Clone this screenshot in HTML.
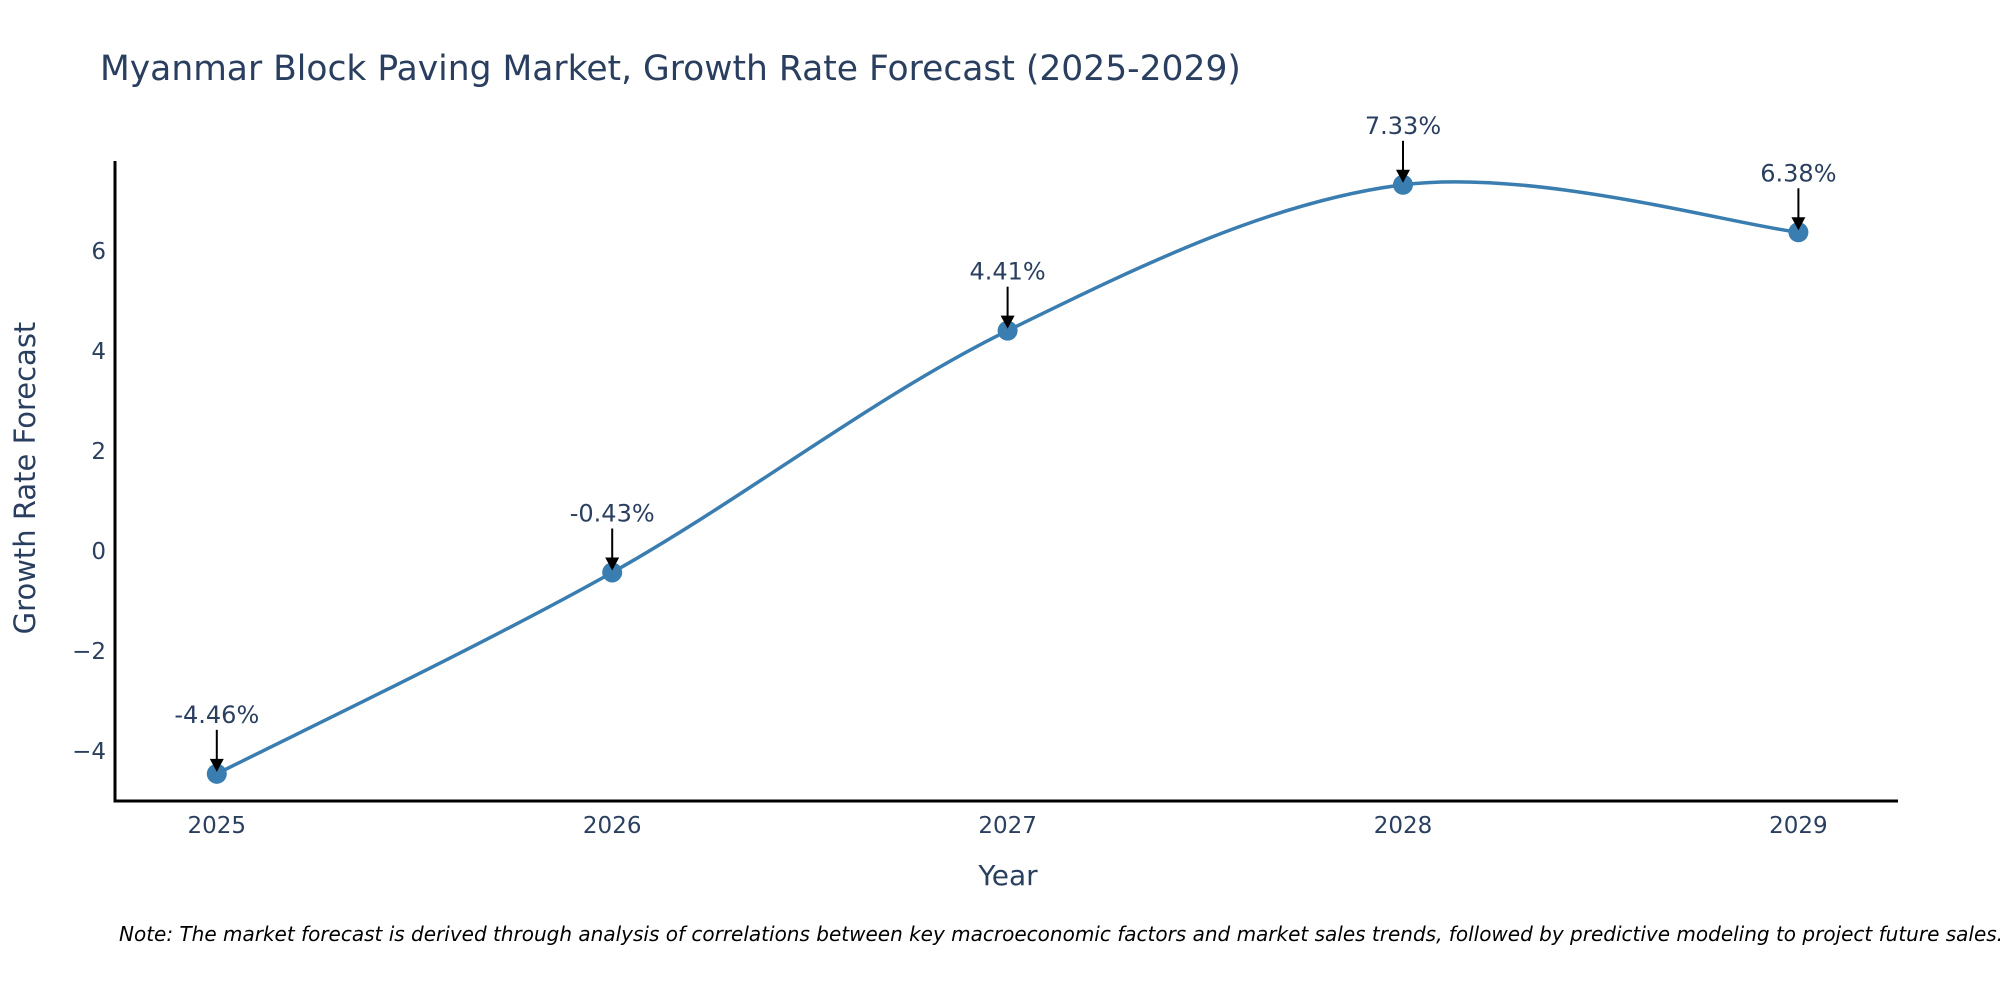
<!DOCTYPE html>
<html><head><meta charset="utf-8"><style>
body{margin:0;background:#fff;width:2000px;height:1000px;overflow:hidden}
text{font-family:"DejaVu Sans","Liberation Sans",sans-serif;fill:#2a3f5f}
</style></head><body>
<svg id="chart" width="2000" height="1000" xmlns="http://www.w3.org/2000/svg">
<text x="100" y="80" font-size="34.5">Myanmar Block Paving Market, Growth Rate Forecast (2025-2029)</text>
<g id="axes"></g>
<g id="plot"></g>
<text x="1008" y="885" font-size="28" text-anchor="middle">Year</text>
<text transform="translate(35,478) rotate(-90)" font-size="29" text-anchor="middle">Growth Rate Forecast</text>
<text x="119" y="941" font-size="20" font-style="italic" style="fill:#000">Note: The market forecast is derived through analysis of correlations between key macroeconomic factors and market sales trends, followed by predictive modeling to project future sales.</text>
</svg>
<script>
const years = [2025, 2026, 2027, 2028, 2029];
const growth = [-4.46, -0.43, 4.41, 7.33, 6.38];
const labels = ["-4.46%", "-0.43%", "4.41%", "7.33%", "6.38%"];
const yTicks = [-4, -2, 0, 2, 4, 6];
const yTickLabels = ["\u22124", "\u22122", "0", "2", "4", "6"];

const NS = "http://www.w3.org/2000/svg";
const xL = 115, xR = 1898, yTop = 161, yBot = 801;
const xScale = v => 216.8 + (v - 2025) * 395.4;
const yScale = v => 551 - v * 49.96;
function mk(tag, attrs, parent) {
  const e = document.createElementNS(NS, tag);
  for (const k in attrs) e.setAttribute(k, attrs[k]);
  parent.appendChild(e);
  return e;
}
const axes = document.getElementById('axes');
const plot = document.getElementById('plot');
const yAxis = mk('line', {x1: xL, y1: yTop, x2: xL, y2: yBot + 1.5, stroke: '#000', 'stroke-width': 3}, axes);


const xAxis = mk('line', {x1: xL - 1.5, y1: yBot, x2: xR, y2: yBot, stroke: '#000', 'stroke-width': 3}, axes);


yTicks.forEach((t, i) => {
  const tx = mk('text', {x: 106, y: yScale(t) + 8, 'font-size': 23, 'text-anchor': 'end'}, axes);
  tx.textContent = yTickLabels[i];
  
  
});
years.forEach(y => {
  const tx = mk('text', {x: xScale(y), y: 833, 'font-size': 23, 'text-anchor': 'middle'}, axes);
  tx.textContent = y;
  
  
});
const pts = years.map((y, i) => [xScale(y), yScale(growth[i])]);
let d = `M${pts[0][0]},${pts[0][1]}`;
for (let i = 0; i < pts.length - 1; i++) {
  const p0 = pts[Math.max(i - 1, 0)], p1 = pts[i], p2 = pts[i + 1], p3 = pts[Math.min(i + 2, pts.length - 1)];
  const c1 = [p1[0] + (p2[0] - p0[0]) / 6, p1[1] + (p2[1] - p0[1]) / 6];
  const c2 = [p2[0] - (p3[0] - p1[0]) / 6, p2[1] - (p3[1] - p1[1]) / 6];
  d += ` C${c1[0]},${c1[1]} ${c2[0]},${c2[1]} ${p2[0]},${p2[1]}`;
}
const line = mk('path', {d: d, fill: 'none', stroke: '#3a7db0', 'stroke-width': 3.5}, plot);


pts.forEach((p, i) => {
  const c = mk('circle', {cx: p[0], cy: p[1], r: 10, fill: '#3a7db0'}, plot);
  
  
  const a = mk('line', {x1: p[0], y1: p[1] - 44, x2: p[0], y2: p[1] - 14, stroke: '#000', 'stroke-width': 2}, plot);
  
  
  const h = mk('polygon', {points: `${p[0]-7},${p[1]-15} ${p[0]+7},${p[1]-15} ${p[0]},${p[1]-2}`, fill: '#000'}, plot);
  
  
  const t = mk('text', {x: p[0], y: p[1] - 51, 'font-size': 24, 'text-anchor': 'middle'}, plot);
  t.textContent = labels[i];
  
  
});
</script>
</body></html>
